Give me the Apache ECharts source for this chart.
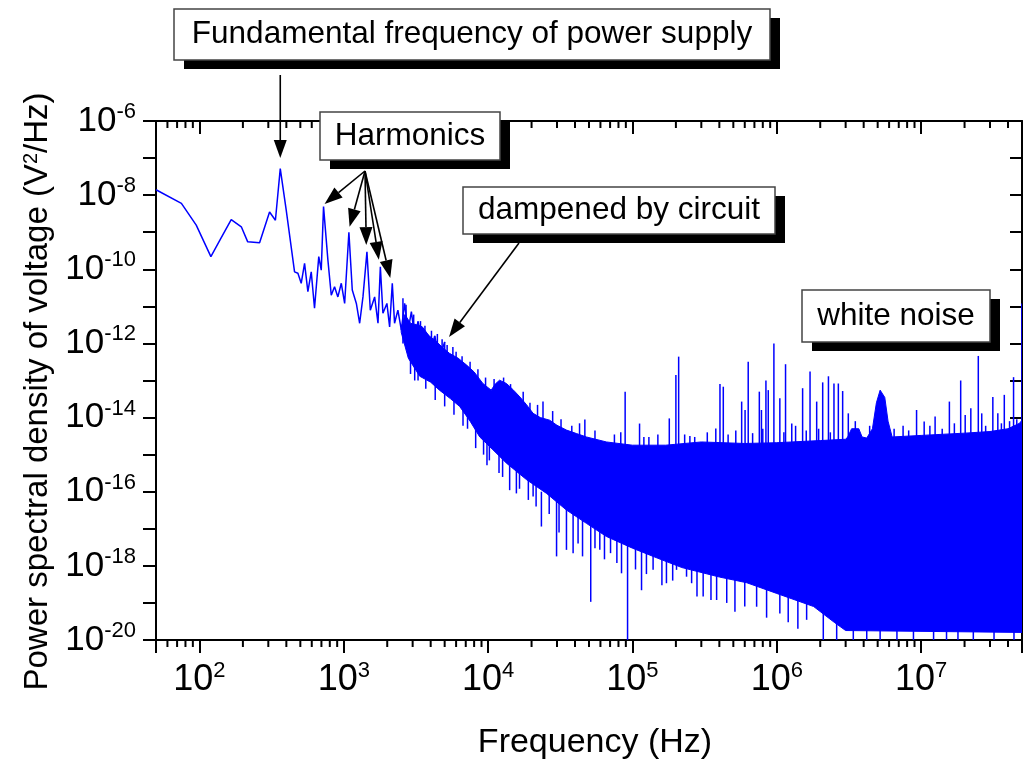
<!DOCTYPE html>
<html><head><meta charset="utf-8">
<script src="https://cdn.jsdelivr.net/npm/echarts@6/dist/echarts.min.js"></script>
<style>html,body{margin:0;padding:0;background:#fff}#c{width:1026px;height:765px}</style>
</head><body><div id="c"></div>
<script>
// ---------- data ----------
// low-frequency part of the spectrum (Hz, V^2/Hz)
const lowHz = [50,75,95,120,141,166,195,216,261,306,336,363,399,456,481,507,535,564,595,627,671,698,724,776,819,863,910,961,1014,1085,1145,1222,1288,1358,1447,1527,1636,1726,1792,1867,1990,2078,2168,2248,2371,2505,2640,2785,2940,3100,3270,3500,3830,4000,4266,4600,5000];
const lowPsd = [1.4e-8,6.0e-9,1.55e-9,2.2e-10,6.9e-10,2.2e-9,1.4e-9,5.5e-10,5.2e-10,3.5e-9,2.1e-9,5.2e-8,4.0e-9,8.5e-11,7.8e-11,4.2e-11,1.45e-10,2.5e-11,8.5e-11,8.9e-12,2.2e-10,9.5e-11,4.9e-9,1.8e-10,2.0e-11,3.4e-11,1.8e-11,4.2e-11,1.2e-11,1.0e-9,2.75e-11,1.2e-11,3.5e-12,1.8e-11,2.95e-10,7.9e-12,1.8e-11,3.5e-12,1.17e-10,6.5e-12,1.2e-11,2.8e-12,4.2e-11,3.5e-12,7.9e-12,2.3e-12,1.2e-11,2.1e-12,7.2e-12,1.5e-12,3.9e-12,1.0e-12,1.7e-12,6e-13,1.6e-12,4e-13,1.1e-12];

// upper edge of the dense noise band
const bandTopHz  = [2500,2650,2900,3200,3500,3900,4300,4800,5400,6200,7100,8000,9200,10500,11200,12000,13400,15000,16600,18500,20500,23000,26700,30000,34900,41000,48000,66000,100000,170000,300000,600000,1000000,2000000,3000000,3100000,3300000,3700000,3900000,4200000,4600000,4900000,5200000,5600000,5900000,6300000,10000000,20000000,30000000,40000000,48000000,50000000];
const bandTopPsd = [2.5e-12,6e-12,3.5e-12,3.2e-12,2.8e-12,1.6e-12,1.2e-12,8e-13,5.4e-13,4.0e-13,2.6e-13,1.7e-13,8.3e-14,5.5e-14,8e-14,1.02e-13,8.3e-14,5.5e-14,3.6e-14,2.2e-14,1.3e-14,1.0e-14,8.5e-15,6.2e-15,4.6e-15,3.7e-15,3.0e-15,2.2e-15,1.8e-15,1.8e-15,2.2e-15,2.0e-15,2.1e-15,2.4e-15,2.6e-15,3e-15,5e-15,5e-15,3e-15,2.8e-15,5e-15,2.5e-14,5.5e-14,3.5e-14,8e-15,3e-15,3.3e-15,3.8e-15,4.2e-15,5e-15,7e-15,8.5e-15];

// lower edge of the dense noise band
const bandBotHz  = [2500,2800,3360,4000,4600,5500,6350,7500,8750,10800,13400,18500,25400,34900,48000,66000,100000,150000,220000,400000,620000,1000000,1800000,2500000,3000000,50000000];
const bandBotPsd = [2e-12,4e-13,1.3e-13,9e-14,5.5e-14,3.2e-14,2e-14,8e-15,3e-15,1.35e-15,5.9e-16,2.1e-16,9e-17,3.2e-17,1.4e-17,6.2e-18,3e-18,1.6e-18,9e-19,5e-19,3.5e-19,1.8e-19,8e-20,3e-20,1.8e-20,1.6e-20];

// single spikes leaving the band: frequency, lowest value, highest value
const spikeHz   = [9820,11900,14100,15700,17900,20500,23400,29800,34900,38800,45100,51400,59400,70500,84000,92500,115600,139000,172000,202000,237000,257000,309000,383000,513000,725000,1050000,1610000,2100000,2600000,3390000,4200000,5200000,6800000,8850000,12200000,15000000,18000000,23000000,32000000,44000000,
                   2570,3270,3830,4266,5000,24000,46800,83000,89000,112000,180000,200000,209000,378000,404000,426000,571000,603000,634000,757000,783000,841000,873000,955000,1050000,1150000,1270000,1510000,1700000,1890000,2080000,2280000,2490000,2670000,2860000,3130000,9300000,10500000,12500000,15700000,18800000,20200000,22100000,24900000,26300000,31400000,34000000,37700000,43700000,49900000];
const spikeLow  = [5.2e-16,3.2e-16,1.1e-16,9e-17,2.5e-16,7.4e-17,1.15e-17,1.8e-18,2.7e-18,2.2e-18,1.8e-18,1.07e-19,2.7e-18,2.2e-18,6.3e-19,1e-20,2.2e-19,7.8e-19,3.4e-19,7.8e-19,5.1e-19,3.4e-19,1.5e-19,1.2e-19,5.8e-20,7.9e-20,5.2e-20,3.5e-20,1e-20,1e-20,1e-20,1e-20,1e-20,1e-20,1e-20,1e-20,1e-20,1e-20,1e-20,1e-20,1e-20,
                   1e-12,1e-13,1e-13,1e-13,1e-13,1e-15,1e-16,1e-16,1e-16,1e-16,1e-16,1e-16,1e-16,1e-16,1e-16,1e-16,1e-16,1e-16,1e-16,1e-16,1e-16,1e-16,1e-16,1e-16,1e-16,1e-16,1e-16,1e-16,1e-16,1e-16,1e-16,1e-16,1e-16,1e-16,1e-16,1e-16,1e-16,1e-16,1e-16,1e-16,1e-16,1e-16,1e-16,1e-16,1e-16,1e-16,1e-16,1e-16,1e-16,1e-16];
const spikeHigh = [1e-14,1e-14,1e-15,1e-15,1e-15,1e-15,1e-16,1e-16,1e-16,1e-16,1e-16,1e-16,1e-16,1e-16,1e-16,1e-16,1e-16,1e-16,1e-16,1e-16,1e-16,1e-16,1e-16,1e-16,1e-16,1e-16,1e-16,1e-16,1e-16,1e-16,1e-16,1e-16,1e-16,1e-16,1e-16,1e-16,1e-16,1e-16,1e-16,1e-16,1e-16,
                   1.66e-11,3.9e-12,1.7e-12,1.6e-12,1.1e-12,2.7e-14,8.9e-15,4e-15,5e-14,6.9e-15,9.5e-15,1.4e-13,4.4e-13,5.1e-15,8.1e-14,6.8e-14,2.7e-14,1.6e-14,3.2e-13,5e-14,1.6e-14,1.0e-13,5.5e-14,1e-12,3.3e-14,2.75e-13,6.9e-15,6.2e-14,1.74e-13,2.7e-14,8.9e-14,1.3e-13,8.3e-14,8.3e-14,5.2e-14,1.3e-14,1.6e-14,7.8e-15,1.07e-14,2.7e-14,1.0e-13,1.17e-14,1.78e-14,4.6e-13,1.3e-14,3.6e-14,1.3e-14,4.1e-14,1.23e-13,1.2e-11];

// short streaks along the ragged band edges: frequency, lowest value, highest value
const edgeHz   = [2700,3050,3400,3650,4050,4450,4800,5200,5700,6000,6600,7500,8500,9600,11000,12800,14300,17500,19500,22000,28000,32000,38000,43000,55000,75000,130000,150000,250000,
                  120000,230000,270000,330000,460000,520000,680000,800000,1120000,1350000,1600000,1950000,2350000,3500000,4400000,6500000,7500000,8200000,11500000,14000000,17000000,28000000,36000000,41000000,46000000,
                  2900,3100,3700,4300,5000,5800,6700,7200,8200,9300,10200,12600,16500,19000,21500,26500,31000,42000,55000,64000,78000,105000,125000,160000,190000,280000,350000,450000,600000,850000,1200000,1400000];
const edgeLow  = [3e-12,2e-12,1.5e-12,1e-12,8e-13,6e-13,4e-13,3e-13,2.5e-13,2e-13,1.5e-13,1e-13,6e-14,4e-14,4e-14,5e-14,4e-14,2e-14,1e-14,8e-15,5e-15,4e-15,3e-15,2.5e-15,2e-15,1.5e-15,1.2e-15,1.2e-15,1.5e-15,
                  1e-15,1e-15,1e-15,1e-15,1e-15,1e-15,1e-15,1e-15,1e-15,1e-15,1e-15,1e-15,1e-15,1e-15,1e-15,1e-15,1e-15,1e-15,1e-15,1e-15,1e-15,1e-15,1e-15,1e-15,1e-15,
                  1.5e-13,1e-13,6e-14,3e-14,2e-14,1.2e-14,6e-15,5e-15,1.5e-15,1e-15,7e-16,2.5e-16,1.2e-16,6e-17,4e-17,2.5e-17,8e-18,4e-18,3e-18,1.5e-18,1.2e-18,8e-19,6e-19,3e-19,4e-19,1.5e-19,1.2e-19,1e-19,8e-20,4e-20,3e-20,2e-20];
const edgeHigh = [1.1e-11,6e-12,4e-12,3e-12,2.2e-12,1.8e-12,1.3e-12,9e-13,8e-13,6e-13,4.5e-13,3.2e-13,2e-13,1.2e-13,1.1e-13,1.2e-13,8e-14,5e-14,2.5e-14,2.2e-14,1.5e-14,9e-15,6e-15,7e-15,4.5e-15,3.5e-15,3e-15,3.5e-15,3.2e-15,
                  3e-15,3.5e-15,3e-15,4e-15,3.5e-15,4.5e-15,3.8e-15,5e-15,4e-15,6e-15,4.5e-15,5e-15,4e-15,8e-15,6e-15,5e-15,6e-15,4.5e-15,6e-15,5e-15,7e-15,6e-15,7e-15,8e-15,9e-15,
                  1e-12,8e-13,4e-13,2e-13,1e-13,8e-14,5e-14,4e-14,1e-14,8e-15,5e-15,2e-15,1e-15,5e-16,3e-16,2e-16,1e-16,5e-17,3e-17,2e-17,1e-17,1e-17,5e-18,5e-18,5e-18,2e-18,2e-18,2e-18,1e-18,1e-18,1e-18,1e-18];

// axis
const xMin = 50, xMax = 5e7;
const yMinExp = -20, yMaxExp = -6;
const minorMult = [2,3,4,5,6,7,8,9];
const minorDecades = [10,100,1000,10000,100000,1000000,10000000];

// annotations: label, arrow target(s) in data units
const annFund = {text:'Fundamental frequency of power supply', hz:[363], psd:[1.0e-7]};
const annHarm = {text:'Harmonics', hz:[736,1097,1432,1750,2100], psd:[5.8e-9,1.4e-9,4.5e-10,1.8e-10,5.8e-11]};
const annDamp = {text:'dampened by circuit', hz:[5360], psd:[1.5e-12]};
const annWhite = {text:'white noise', hz:[], psd:[]};

// ---------- chart ----------
const FONT = '"Liberation Sans", Arial, Helvetica, sans-serif';
const NARROW = '"Liberation Sans Narrow", "Arial Narrow", "Liberation Sans", Arial, sans-serif';
const BLUE = '#0000ff';
const L = Math.log10;

const minorTicks = [];
minorDecades.forEach(d => minorMult.forEach(m => { const v = d*m; if (v > xMin && v < xMax) minorTicks.push([v, yMinExp]); }));

const bandPoly = [];
bandTopHz.forEach((f,i) => bandPoly.push([f, L(bandTopPsd[i])]));
for (let i = bandBotHz.length-1; i >= 0; i--) bandPoly.push([bandBotHz[i], L(bandBotPsd[i])]);

const streaks = spikeHz.map((f,i) => [f, L(spikeLow[i]), L(spikeHigh[i])])
  .concat(edgeHz.map((f,i) => [f, L(edgeLow[i]), L(edgeHigh[i])]));

const chart = echarts.init(document.getElementById('c'), null, {renderer:'canvas', width:1026, height:765});

function xFmt(v){
  const e = Math.log10(v); const r = Math.round(e);
  if (Math.abs(e-r) > 1e-6) return '';
  return '{b|10}{s|' + r + '}';
}
function yFmt(v){
  const r = Math.round(v);
  if (Math.abs(v-r) > 1e-6 || r % 2 !== 0) return '';
  return '{b|10}{s|' + r + '}';
}
const axisLineStyle = {color:'#000', width:2};

chart.setOption({
  animation:false,
  backgroundColor:'#fff',
  textStyle:{fontFamily:FONT},
  grid:{left:156, right:4, top:121, bottom:125, containLabel:false, outerBoundsMode:'none'},
  xAxis:[{
    type:'log', logBase:10, min:xMin, max:xMax, position:'bottom',
    axisLine:{show:true, onZero:false, lineStyle:axisLineStyle},
    axisTick:{show:true, inside:false, length:13, lineStyle:{color:'#000', width:2}},
    minorTick:{show:false}, splitLine:{show:false},
    axisLabel:{show:true, formatter:xFmt, margin:20, showMinLabel:true, showMaxLabel:true, hideOverlap:false,
      color:'#000', rich:{b:{fontSize:36, fontFamily:NARROW, color:'#000', lineHeight:40},
                          s:{fontSize:22, fontFamily:NARROW, color:'#000', verticalAlign:'top', lineHeight:22}}},
    name:'Frequency (Hz)', nameLocation:'middle', nameGap:86,
    nameTextStyle:{fontSize:34, fontFamily:FONT, color:'#000', padding:[0,0,0,12]}
  },{
    type:'log', logBase:10, min:xMin, max:xMax, position:'top',
    axisLine:{show:true, onZero:false, lineStyle:axisLineStyle},
    axisTick:{show:true, inside:true, length:13, lineStyle:{color:'#000', width:2}},
    axisLabel:{show:false}, splitLine:{show:false}, minorTick:{show:false}
  }],
  yAxis:[{
    type:'value', min:yMinExp, max:yMaxExp, interval:1, position:'left',
    axisLine:{show:true, onZero:false, lineStyle:axisLineStyle},
    axisTick:{show:true, inside:false, length:13, lineStyle:{color:'#000', width:2}},
    splitLine:{show:false},
    axisLabel:{show:true, formatter:yFmt, margin:20, showMinLabel:true, showMaxLabel:true, hideOverlap:false,
      rich:{b:{fontSize:35, fontFamily:FONT, color:'#000', lineHeight:40},
            s:{fontSize:22, fontFamily:FONT, color:'#000', verticalAlign:'top', lineHeight:22}}},
    name:'Power spectral density of voltage (V{s|2}/Hz)', nameLocation:'middle', nameGap:100,
    nameTextStyle:{fontSize:33, fontFamily:FONT, color:'#000', padding:[0,22,0,0],
      rich:{s:{fontSize:20, fontFamily:FONT, color:'#000', verticalAlign:'top', lineHeight:20}}}
  },{
    type:'value', min:yMinExp, max:yMaxExp, interval:1, position:'right',
    axisLine:{show:true, onZero:false, lineStyle:axisLineStyle},
    axisTick:{show:true, inside:true, length:12, lineStyle:{color:'#000', width:2}},
    axisLabel:{show:false}, splitLine:{show:false}
  }],
  series:[
    { // dense band
      type:'custom', xAxisIndex:0, yAxisIndex:0, clip:true, silent:true,
      data:[[1e5, -16]],
      renderItem:function(params, api){
        const pts = bandPoly.map(p => api.coord(p));
        return {type:'polygon', shape:{points:pts}, style:{fill:BLUE, stroke:BLUE, lineWidth:1}};
      }
    },
    { // spikes and ragged edges
      type:'custom', xAxisIndex:0, yAxisIndex:0, clip:true, silent:true,
      data: streaks,
      encode:{x:0, y:[1,2]},
      renderItem:function(params, api){
        const a = api.coord([api.value(0), api.value(1)]);
        const b = api.coord([api.value(0), api.value(2)]);
        return {type:'line', shape:{x1:a[0], y1:a[1], x2:b[0], y2:b[1]}, style:{stroke:BLUE, lineWidth:1.5}};
      }
    },
    { // low-frequency line
      type:'line', xAxisIndex:0, yAxisIndex:0, showSymbol:false, symbol:'none', clip:true,
      data: lowHz.map((f,i) => [f, L(lowPsd[i])]),
      lineStyle:{color:BLUE, width:1.5}, itemStyle:{color:BLUE}
    },
    { // minor ticks on bottom and top axes
      type:'custom', xAxisIndex:0, yAxisIndex:0, clip:false, silent:true, z:10,
      data: minorTicks,
      renderItem:function(params, api){
        const f = api.value(0);
        const b = api.coord([f, yMinExp]);
        const t = api.coord([f, yMaxExp]);
        return {type:'group', children:[
          {type:'line', shape:{x1:b[0], y1:b[1], x2:b[0], y2:b[1]+7}, style:{stroke:'#000', lineWidth:2}},
          {type:'line', shape:{x1:t[0], y1:t[1], x2:t[0], y2:t[1]+7}, style:{stroke:'#000', lineWidth:2}}
        ]};
      }
    }
  ]
});

// ---------- annotation boxes and arrows ----------
function box(text, x, y, w, h){
  return [
    {type:'rect', shape:{x:x+10, y:y+9, width:w, height:h}, style:{fill:'#000'}, z:100},
    {type:'rect', shape:{x:x, y:y, width:w, height:h}, style:{fill:'#fff', stroke:'#444', lineWidth:1.5}, z:101},
    {type:'text', x:x+w/2, y:y+h/2, z:102,
     style:{text:text, fontSize:31.5, fontFamily:FONT, fill:'#000', align:'center', verticalAlign:'middle', textAlign:'center', textVerticalAlign:'middle'}}
  ];
}
function arrow(sx, sy, tx, ty){
  const dx = tx-sx, dy = ty-sy, len = Math.sqrt(dx*dx+dy*dy);
  const ux = dx/len, uy = dy/len, nx = -uy, ny = ux;
  const hl = 18, hw = 6.5;
  const bx = tx-ux*hl, by = ty-uy*hl;
  return [
    {type:'line', shape:{x1:sx, y1:sy, x2:bx, y2:by}, style:{stroke:'#000', lineWidth:1.6}, z:103},
    {type:'polygon', shape:{points:[[tx,ty],[bx+nx*hw,by+ny*hw],[bx-nx*hw,by-ny*hw]]}, style:{fill:'#000'}, z:103}
  ];
}
function px(hz, psd){ return chart.convertToPixel({xAxisIndex:0, yAxisIndex:0}, [hz, L(psd)]); }

let g = [];
g = g.concat(box(annFund.text, 174, 9, 596, 51));
g = g.concat(box(annHarm.text, 320, 112, 180, 48));
g = g.concat(box(annDamp.text, 463, 187, 312, 47));
g = g.concat(box(annWhite.text, 802, 290, 188, 52));
annFund.hz.forEach((f,i) => { const p = px(f, annFund.psd[i]); g = g.concat(arrow(p[0], 75, p[0], p[1])); });
annHarm.hz.forEach((f,i) => { const p = px(f, annHarm.psd[i]); g = g.concat(arrow(365, 171, p[0], p[1])); });
annDamp.hz.forEach((f,i) => { const p = px(f, annDamp.psd[i]); g = g.concat(arrow(519, 243, p[0], p[1])); });
chart.setOption({graphic:{elements:g}});
</script>
</body></html>
